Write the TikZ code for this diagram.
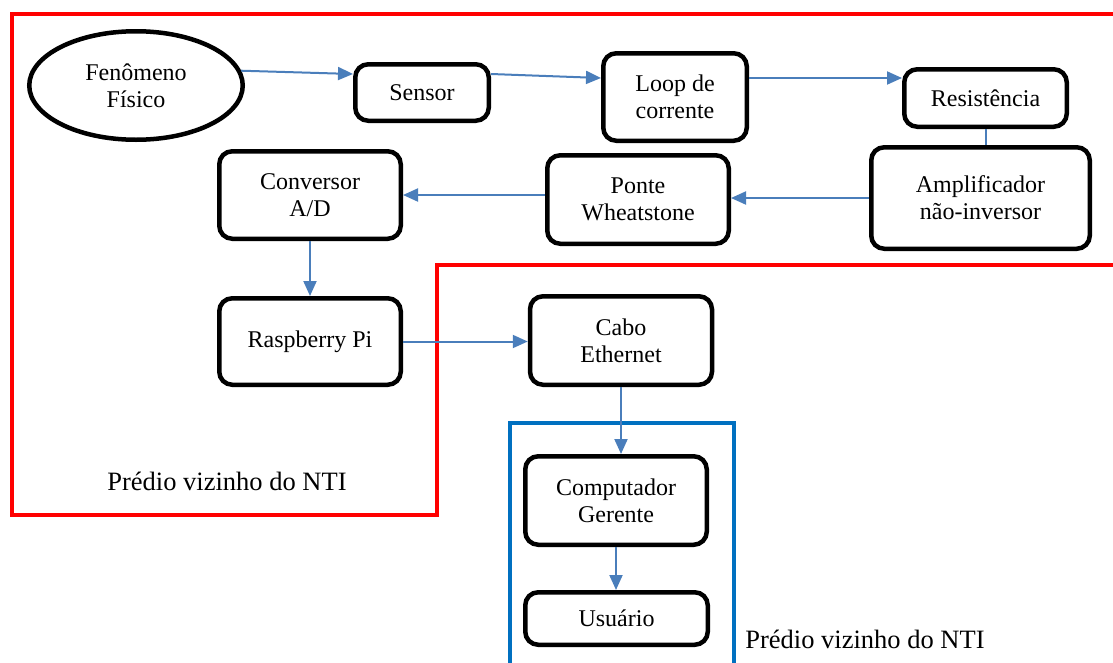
\documentclass[tikz,border=0pt]{standalone}
\usepackage{fontspec}
\setmainfont{Liberation Serif}
\usetikzlibrary{shapes.geometric,arrows.meta}
\definecolor{redline}{RGB}{255,0,0}
\definecolor{blueline}{RGB}{0,112,192}
\definecolor{arrowblue}{RGB}{74,126,187}
\begin{document}
\begin{tikzpicture}[x=1pt,y=-1pt,
  box/.style={draw, line width=4.5pt, rounded corners=13pt, align=center, inner sep=0pt, font=\fontsize{24}{27}\selectfont},
  arr/.style={draw=arrowblue, line width=2pt, -{Triangle[length=15pt,width=13pt]}},
  plainline/.style={draw=arrowblue, line width=2pt},
  lbl/.style={font=\fontsize{26.5}{30}\selectfont, inner sep=0pt}]
\useasboundingbox (0,0) rectangle (1113,662);
% regions
\draw[redline, line width=4.5pt] (1120,14) -- (12,14) -- (12,515) -- (437,515) -- (437,265) -- (1120,265);
\draw[blueline, line width=4.5pt] (510,670) -- (510,423) -- (734,423) -- (734,670);
% nodes
\node[ellipse, draw, line width=4.5pt, minimum width=213.5pt, minimum height=108.5pt, inner sep=0pt, align=center, font=\fontsize{24}{27}\selectfont] (fen) at (136,85.5) {Fenômeno\\Físico};
\node[box, minimum width=133.5pt, minimum height=56.5pt] (sensor) at (422,92.5) {Sensor};
\node[box, minimum width=143.5pt, minimum height=87.5pt] (loop) at (675,97) {Loop de\\corrente};
\node[box, minimum width=162.5pt, minimum height=57.5pt] (res) at (985.5,98) {Resistência};
\node[box, minimum width=218.5pt, minimum height=101.5pt] (amp) at (980.5,198) {Amplificador\\não-inversor};
\node[box, minimum width=181.5pt, minimum height=88.5pt] (ponte) at (638,199.5) {Ponte\\Wheatstone};
\node[box, minimum width=181.5pt, minimum height=87.5pt] (conv) at (310,195) {Conversor\\A/D};
\node[box, minimum width=181.5pt, minimum height=86.5pt] (rasp) at (310,341.5) {Raspberry Pi};
\node[box, minimum width=182pt, minimum height=88.5pt] (cabo) at (621,340.5) {Cabo\\Ethernet};
\node[box, minimum width=181.5pt, minimum height=88.5pt] (comp) at (616,500.5) {Computador\\Gerente};
\node[box, minimum width=182.5pt, minimum height=52.5pt] (usu) at (616.5,618.5) {Usuário};
\node[lbl] (l1) at (227,481) {Prédio vizinho do NTI};
\node[lbl] (l2) at (865,639) {Prédio vizinho do NTI};
% connectors
\draw[arr] (fen.8) -- ([yshift=18.5pt]sensor.west);
\draw[arr] ([yshift=18.5pt]sensor.east) -- ([yshift=19pt]loop.west);
\draw[arr] ([yshift=19pt]loop.east) -- ([yshift=20pt]res.west);
\draw[plainline] (res.south) -- (res.south |- amp.north);
\draw[arr] (amp.west) -- (amp.west -| ponte.east);
\draw[arr] (conv.east -| ponte.west) -- (conv.east);
\draw[arr] (conv.south) -- (rasp.north);
\draw[arr] (rasp.east) -- (rasp.east -| cabo.west);
\draw[arr] (cabo.south) -- (cabo.south |- comp.north);
\draw[arr] (comp.south) -- (comp.south |- usu.north);
\end{tikzpicture}
\end{document}
